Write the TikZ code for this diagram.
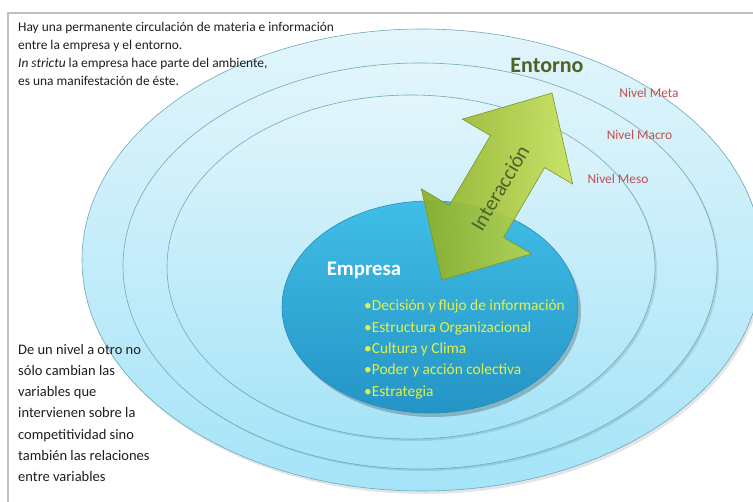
\documentclass[tikz,border=0pt]{standalone}
\usepackage{fontspec}
\setmainfont{Carlito}
\definecolor{framegray}{RGB}{192,192,192}
\definecolor{ringtop}{RGB}{226,245,251}
\definecolor{ringbot}{RGB}{165,228,248}
\definecolor{ringline}{RGB}{112,168,188}
\definecolor{emptop}{RGB}{64,190,230}
\definecolor{empbot}{RGB}{36,148,198}
\definecolor{empline}{RGB}{40,140,185}
\definecolor{arrlight}{RGB}{200,226,92}
\definecolor{arrdark}{RGB}{140,174,38}
\definecolor{arrline}{RGB}{120,150,40}
\definecolor{darkgreen}{RGB}{79,98,40}
\definecolor{nivelred}{RGB}{192,80,77}
\definecolor{bulletyellow}{RGB}{228,240,70}
\definecolor{bodytext}{RGB}{30,30,30}
\begin{document}
\begin{tikzpicture}[x=1pt,y=-1pt,
  ring/.style={draw=ringline, line width=0.6pt, top color=ringtop, bottom color=ringbot},
  ringshadow/.style={fill=black, opacity=0.10},
  nivel/.style={text=nivelred, font=\fontsize{13.4}{15}\selectfont, inner sep=0pt},
  bodyblock/.style={text=bodytext, align=left, anchor=north west, inner sep=0pt}]
\useasboundingbox (0,0) rectangle (753,502);
\fill[white] (0,0) rectangle (753,502);
\draw[framegray, line width=2pt] (753,13) -- (8,13) -- (8,502);

% rings
\fill[ringshadow] (424,263) ellipse [x radius=340, y radius=231];
\path[ring] (422,260) ellipse [x radius=340, y radius=231];
\fill[ringshadow] (422,268) ellipse [x radius=297, y radius=203];
\path[ring] (420,266) ellipse [x radius=297, y radius=203];
\fill[ringshadow] (413,269) ellipse [x radius=244, y radius=172];
\path[ring] (411,267) ellipse [x radius=244, y radius=172];

% empresa
\fill[black, opacity=0.22] (433,311) ellipse [x radius=148, y radius=106];
\path[draw=empline, line width=0.6pt, top color=emptop, bottom color=empbot] (430,307) ellipse [x radius=148, y radius=106];

% arrow
\begin{scope}[shift={(497,186.5)}, rotate=59.5]
\path[draw=arrline, line width=0.6pt, left color=arrdark, right color=arrlight, fill opacity=0.92]
  (108.5,0) -- (40.5,64) -- (40.5,31.5) -- (-40.5,31.5) -- (-40.5,64) -- (-108.5,0)
  -- (-40.5,-64) -- (-40.5,-31.5) -- (40.5,-31.5) -- (40.5,-64) -- cycle;
\end{scope}
\node[rotate=59.5, text=darkgreen, font=\fontsize{21}{24}\selectfont, inner sep=0pt] (inter) at (500,188) {Interacción};

% texts
\node[font=\bfseries\fontsize{22}{25}\selectfont, text=darkgreen, inner sep=0pt] (entorno) at (547,65) {Entorno};
\node[nivel] (meta) at (649,93) {Nivel Meta};
\node[nivel] (macro) at (639.5,135) {Nivel Macro};
\node[nivel] (meso) at (618,179) {Nivel Meso};
\node[font=\bfseries\fontsize{20.8}{23}\selectfont, text=white, inner sep=0pt] (empresa) at (364,270) {Empresa};
\node[text=bulletyellow, align=left, anchor=north west, inner sep=0pt, font=\fontsize{15.4}{21.3}\selectfont] (items) at (364,300)
  {•Decisión y flujo de información\\
   •Estructura Organizacional\\
   •Cultura y Clima\\
   •Poder y acción colectiva\\
   •Estrategia};
\node[bodyblock, font=\fontsize{13.4}{18}\selectfont] (top) at (18,22)
  {Hay una permanente circulación de materia e información\\
   entre la empresa y el entorno.\\
   \textit{In strictu} la empresa hace parte del ambiente,\\
   es una manifestación de éste.};
\node[bodyblock, font=\fontsize{14.5}{21.2}\selectfont] (bottom) at (18,344)
  {De un nivel a otro no\\
   sólo cambian  las\\
   variables que\\
   intervienen sobre la\\
   competitividad sino\\
   también las relaciones\\
   entre variables};
\end{tikzpicture}
\end{document}
